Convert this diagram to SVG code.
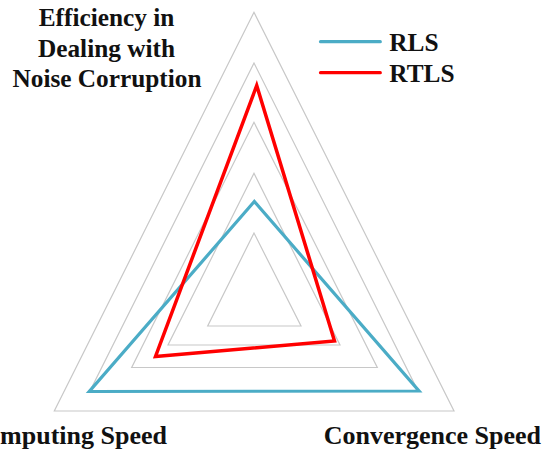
<svg xmlns="http://www.w3.org/2000/svg" width="544" height="454" viewBox="0 0 544 454">
<style>
.grid{fill:none;stroke:#c8c8c8;stroke-width:1.2;stroke-linejoin:miter}
.rls{fill:none;stroke:#4bacc6;stroke-width:3.2;stroke-linejoin:miter}
.rtls{fill:none;stroke:#ff0000;stroke-width:3.5;stroke-linejoin:miter}
.lab{font-family:"Liberation Serif","Times New Roman",serif;font-weight:bold;fill:#111;font-size:25.3px}
.ax{font-size:26px}
</style>
<rect width="544" height="454" fill="#ffffff"/>
<g id="grid">
<polygon class="grid" points="254,12.3 54.3,411 454,411"/>
<polygon class="grid" points="254,63 90,391 418,391"/>
<polygon class="grid" points="254,122.3 131.7,367.5 377.3,367.5"/>
<polygon class="grid" points="254,173.3 168,345 340,345"/>
<polygon class="grid" points="254,233 207.7,326 301,326"/>
</g>
<g id="connectors">
<polygon id="series-rls" class="rls" points="254.3,201.5 89.3,391.5 419,391"/>
<polygon id="series-rtls" class="rtls" points="256.7,85.5 155.5,356.5 334.5,341"/>
</g>
<g id="axis-top">
<text class="lab" text-anchor="middle" x="106.5" y="26">Efficiency in</text>
<text class="lab" text-anchor="middle" x="106.5" y="56.5">Dealing with</text>
<text class="lab" text-anchor="middle" x="107" y="87">Noise Corruption</text>
</g>
<g id="axis-left">
<text class="lab ax" text-anchor="end" x="167" y="444">Computing Speed</text>
</g>
<g id="axis-right">
<text class="lab ax" x="323.7" y="444">Convergence Speed</text>
</g>
<g id="legend">
<line x1="320.5" y1="41.7" x2="380.3" y2="41.7" stroke="#4bacc6" stroke-width="3.2" stroke-linecap="round"/>
<line x1="320.5" y1="72.7" x2="380.3" y2="72.7" stroke="#ff0000" stroke-width="3.2" stroke-linecap="round"/>
<text class="lab" x="389.3" y="51">RLS</text>
<text class="lab" x="389.3" y="81.7">RTLS</text>
</g>
</svg>
